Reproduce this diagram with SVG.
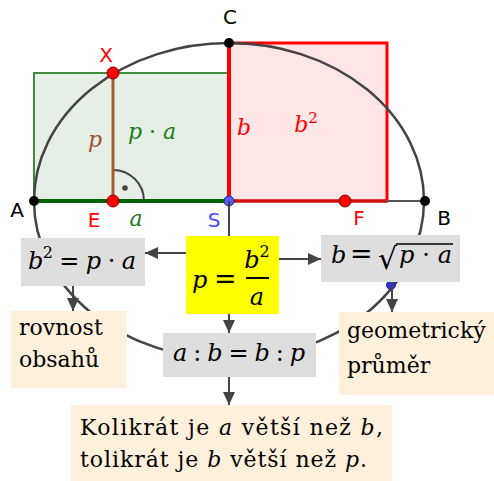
<svg xmlns="http://www.w3.org/2000/svg" width="494" height="481" viewBox="0 0 494 481">
<style>
.lbl{font-family:"DejaVu Sans","Liberation Sans",sans-serif;font-size:20px}
.m{font-family:"DejaVu Serif","Liberation Serif",serif;font-size:24px;fill:#000}
.mi{font-style:italic}
.t{font-family:"DejaVu Serif","Liberation Serif",serif;font-size:22px;fill:#000}
.gbox{fill:#dedede}
.obox{fill:#fff0dc}
.conn{stroke:#444;stroke-width:2;fill:none}
.pt{stroke-width:1}
</style>
<defs>
<marker id="arr" markerUnits="userSpaceOnUse" markerWidth="14" markerHeight="12" refX="13" refY="6" orient="auto">
<path d="M0,0 L13,6 L0,12 Z" fill="#444"/>
</marker>
</defs>

<g id="geometry">
<rect x="34" y="73" width="195" height="128" fill="#e5efe5" stroke="#3e8e3e" stroke-width="2"/>
<rect x="229" y="43" width="158" height="158" fill="#ffe6e6" stroke="#ff0000" stroke-width="3"/>
<line x1="387" y1="201" x2="425" y2="201" stroke="#555" stroke-width="2"/>
<line x1="229" y1="201" x2="387" y2="201" stroke="#cc1111" stroke-width="3"/>
<line x1="229" y1="43" x2="229" y2="201" stroke="#ff0000" stroke-width="4"/>
<line x1="34" y1="201" x2="229" y2="201" stroke="#006400" stroke-width="4"/>
<ellipse cx="229" cy="201" rx="195" ry="158" fill="none" stroke="#444" stroke-width="2.5"/>
<path d="M113,170 A31,31 0 0 1 144,201" fill="none" stroke="#444" stroke-width="2"/>
<circle cx="125" cy="188" r="2.8" fill="#444"/>
<line x1="113" y1="73" x2="113" y2="201" stroke="#a85a30" stroke-width="3"/>
<circle cx="34" cy="201" r="5" fill="#000"/>
<circle cx="425" cy="201" r="5" fill="#000"/>
<circle cx="229" cy="43" r="5" fill="#000"/>
<circle cx="113" cy="73" r="6" fill="#ff0000" stroke="#8b0000" class="pt"/>
<circle cx="113" cy="201" r="6" fill="#ff0000" stroke="#8b0000" class="pt"/>
<circle cx="345" cy="201" r="6" fill="#ff0000" stroke="#8b0000" class="pt"/>
<circle cx="229" cy="201" r="5" fill="#5a5aff" stroke="#22228b" class="pt"/>
<circle cx="391" cy="285" r="4.5" fill="#3030e0" stroke="#22228b" class="pt"/>
<text class="lbl" x="230" y="24" text-anchor="middle" fill="#000">C</text>
<text class="lbl" x="106" y="62" text-anchor="middle" fill="#ff0000">X</text>
<text class="lbl" x="17" y="217" text-anchor="middle" fill="#000">A</text>
<text class="lbl" x="94" y="227" text-anchor="middle" fill="#ff0000">E</text>
<text class="lbl" x="214" y="227" text-anchor="middle" fill="#4a4aff">S</text>
<text class="lbl" x="359" y="225" text-anchor="middle" fill="#ff0000">F</text>
<text class="lbl" x="444" y="225" text-anchor="middle" fill="#000">B</text>
<text class="m mi" x="136" y="226" text-anchor="middle" style="fill:#1a7a1a;font-size:22px">a</text>
<text class="m mi" x="95" y="147" text-anchor="middle" style="fill:#a0522d;font-size:22px">p</text>
<text class="m" x="128" y="139" textLength="48" lengthAdjust="spacing" style="fill:#1a7a1a;font-size:22px"><tspan class="mi">p</tspan> · <tspan class="mi">a</tspan></text>
<text class="m mi" x="244" y="135" text-anchor="middle" style="fill:#ff0000;font-size:22px">b</text>
<text class="m" x="306" y="132" text-anchor="middle" style="fill:#ff0000;font-size:22px"><tspan class="mi">b</tspan><tspan dy="-9" font-size="15">2</tspan></text>
</g>

<g id="connectors">
<line class="conn" x1="229" y1="201" x2="229" y2="236"/>
<line class="conn" x1="186" y1="253" x2="145" y2="253" marker-end="url(#arr)"/>
<line class="conn" x1="279" y1="259" x2="321" y2="259" marker-end="url(#arr)"/>
<line class="conn" x1="229" y1="314" x2="229" y2="333" marker-end="url(#arr)"/>
<line class="conn" x1="73" y1="286" x2="73" y2="311" marker-end="url(#arr)"/>
<line class="conn" x1="392" y1="282" x2="392" y2="312" marker-end="url(#arr)"/>
<line class="conn" x1="229" y1="377" x2="229" y2="405" marker-end="url(#arr)"/>
</g>

<g id="node-b2">
<rect class="gbox" x="21" y="238" width="124" height="48"/>
<text class="m" x="28" y="269" textLength="108" lengthAdjust="spacing"><tspan class="mi">b</tspan><tspan dy="-11" font-size="16">2</tspan><tspan dy="11"> = </tspan><tspan class="mi">p</tspan> · <tspan class="mi">a</tspan></text>
</g>

<g id="node-main">
<rect x="186" y="236" width="93" height="78" fill="#ffff00"/>
<text class="m mi" x="192" y="288">p</text>
<text class="m" x="214" y="288" style="font-size:27px">=</text>
<text class="m" x="257" y="268" text-anchor="middle"><tspan class="mi">b</tspan><tspan dy="-11" font-size="16">2</tspan></text>
<line x1="246" y1="278" x2="269" y2="278" stroke="#000" stroke-width="2"/>
<text class="m mi" x="257" y="305" text-anchor="middle">a</text>
</g>

<g id="node-sqrt">
<rect class="gbox" x="321" y="235" width="139" height="47"/>
<text class="m mi" x="331" y="263">b</text>
<text class="m" x="350" y="263" style="font-size:27px">=</text>
<text class="m" x="378" y="269" style="font-size:30px">√</text>
<line x1="396" y1="244" x2="453" y2="244" stroke="#000" stroke-width="1.5"/>
<text class="m" x="399" y="263" textLength="53" lengthAdjust="spacing"><tspan class="mi">p</tspan> · <tspan class="mi">a</tspan></text>
</g>

<g id="node-ratio">
<rect class="gbox" x="163" y="333" width="153" height="44"/>
<text class="m" x="173" y="361" textLength="132" lengthAdjust="spacing"><tspan class="mi">a</tspan> : <tspan class="mi">b</tspan> = <tspan class="mi">b</tspan> : <tspan class="mi">p</tspan></text>
</g>

<g id="node-rovnost">
<rect class="obox" x="11" y="311" width="116" height="77"/>
<text class="t" x="19" y="335">rovnost</text>
<text class="t" x="19" y="367">obsahů</text>
</g>

<g id="node-geom">
<rect class="obox" x="339" y="312" width="155" height="83"/>
<text class="t" x="347" y="338">geometrický</text>
<text class="t" x="347" y="373">průměr</text>
</g>

<g id="node-kolikrat">
<rect class="obox" x="71" y="405" width="321" height="76"/>
<text class="t" x="80" y="435" textLength="303" lengthAdjust="spacing">Kolikrát je <tspan class="mi">a</tspan> větší než <tspan class="mi">b</tspan>,</text>
<text class="t" x="80" y="467" textLength="287" lengthAdjust="spacing">tolikrát je <tspan class="mi">b</tspan> větší než <tspan class="mi">p</tspan>.</text>
</g>
</svg>
